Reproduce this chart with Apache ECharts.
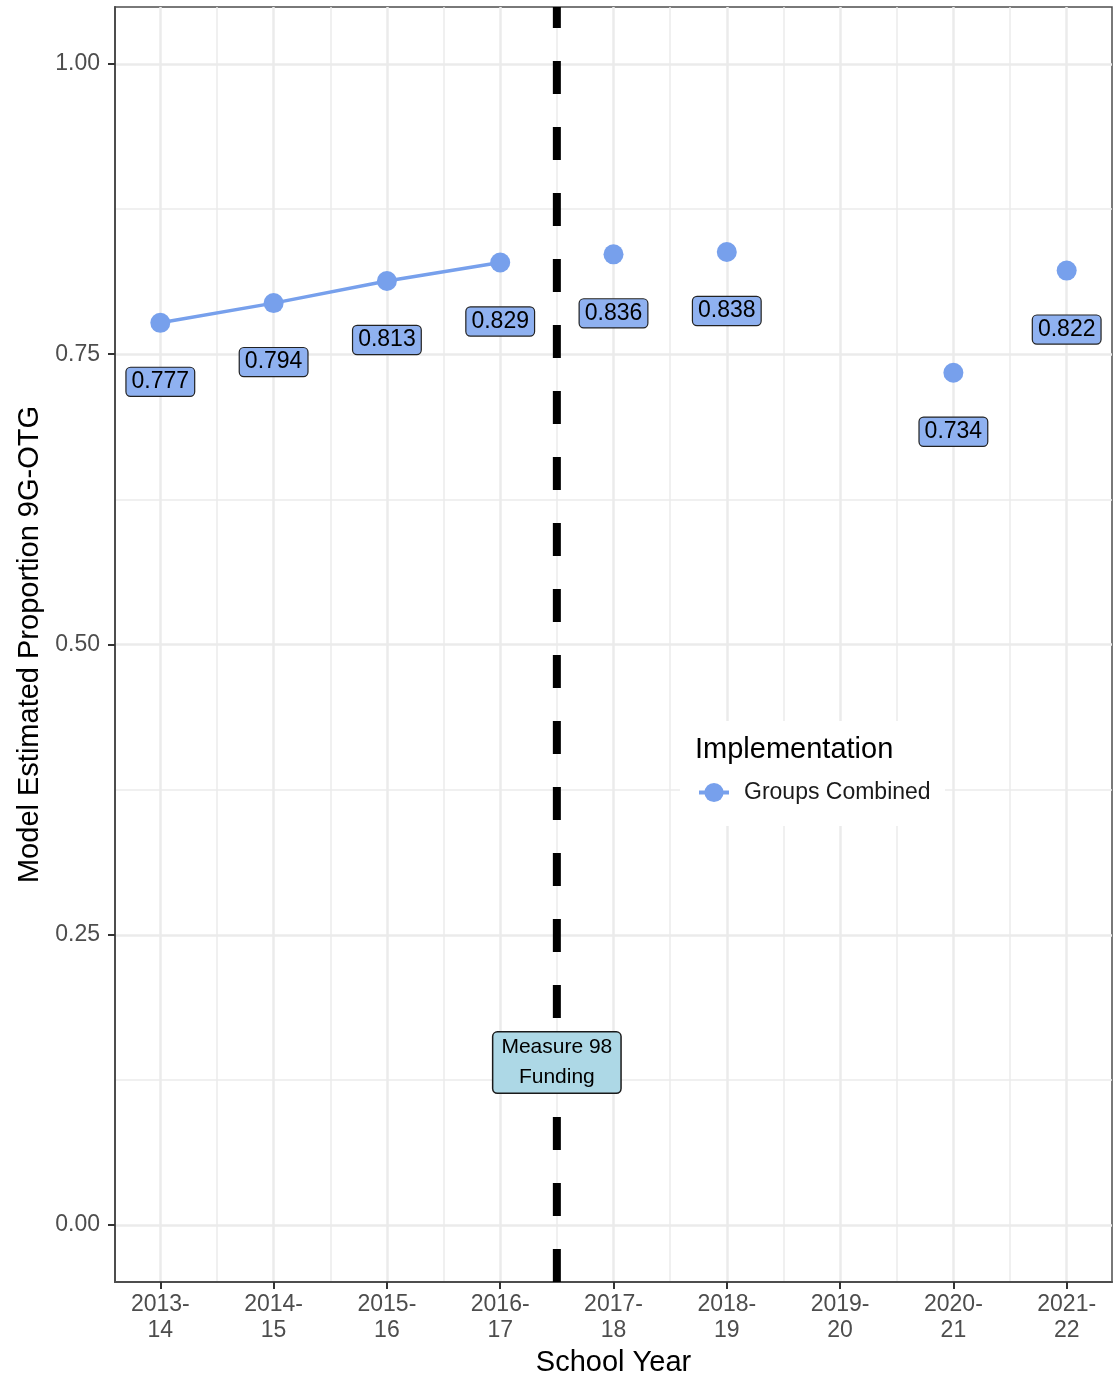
<!DOCTYPE html>
<html>
<head>
<meta charset="utf-8">
<script src="https://cdn.jsdelivr.net/npm/echarts@6/dist/echarts.min.js"></script>
<style>
html, body { margin: 0; padding: 0; background: #fff; }
#chart { width: 1119px; height: 1377px; }
</style>
</head>
<body>
<div id="chart"></div>
<script>
var schoolYears = ['2013-\n14', '2014-\n15', '2015-\n16', '2016-\n17', '2017-\n18', '2018-\n19', '2019-\n20', '2020-\n21', '2021-\n22'];
var estimates = [0.777, 0.794, 0.813, 0.829, 0.836, 0.838, null, 0.734, 0.822];
var preCount = 4; // years joined by the line, before funding
var yTicks = [0, 0.25, 0.5, 0.75, 1];
var yMinor = [0.125, 0.375, 0.625, 0.875];
var fundingAt = 3.5;
var fundingNote = 'Measure 98\nFunding';
var fundingNoteY = 0.14;

var yMin = -0.049, yMax = 1.049;
var xMin = -0.4, xMax = 8.4;
var font = "'Liberation Sans', Arial, sans-serif";
var pointColor = '#77A0EC';

var xIdx = schoolYears.map(function (d, i) { return i; });
var xMinor = schoolYears.slice(1).map(function (d, i) { return i + 0.5; });

var linePts = [];
var otherPts = [];
estimates.forEach(function (v, i) {
	if (v == null) return;
	if (i < preCount) linePts.push([i, v]);
	else otherPts.push([i, v]);
});

var valueLabel = {
	show: true,
	position: 'inside',
	offset: [0, 59],
	formatter: function (p) { return p.value[1].toFixed(3); },
	fontFamily: font,
	fontSize: 23,
	color: '#000',
	backgroundColor: '#8FB1F0',
	borderColor: '#222',
	borderWidth: 1.2,
	borderRadius: 4,
	padding: [3, 5, 2, 5]
};

var chart = echarts.init(document.getElementById('chart'));
chart.setOption({
	animation: false,
	textStyle: { fontFamily: font },
	grid: {
		left: 115,
		right: 7,
		top: 7,
		bottom: 95,
		outerBoundsMode: 'none',
		show: true,
		borderColor: '#4d4d4d',
		borderWidth: 1.5,
		backgroundColor: '#fff'
	},
	legend: {
		data: ['Groups Combined'],
		left: 697,
		top: 781,
		padding: 0,
		itemWidth: 30,
		itemHeight: 24,
		lineStyle: { width: 4 },
		textStyle: { fontFamily: font, fontSize: 23, color: '#1a1a1a', padding: [0, 0, 0, 10] }
	},
	graphic: [
		{
			type: 'rect',
			z: 1,
			shape: { x: 680, y: 721, width: 265, height: 105 },
			style: { fill: '#fff' }
		},
		{
			type: 'text',
			z: 5,
			left: 695,
			top: 735,
			style: { text: 'Implementation', fontFamily: font, fontSize: 29, fill: '#000' }
		}
	],
	xAxis: [
		{
			type: 'value',
			min: xMin,
			max: xMax,
			name: 'School Year',
			nameLocation: 'middle',
			nameGap: 64,
			nameTextStyle: { fontFamily: font, fontSize: 29, color: '#000' },
			axisLine: { show: true, onZero: false, lineStyle: { color: '#4d4d4d', width: 2 } },
			axisTick: { show: true, customValues: xIdx, length: 7, lineStyle: { color: '#333', width: 2 } },
			axisLabel: {
				customValues: xIdx,
				formatter: function (v) { return schoolYears[Math.round(v)]; },
				fontFamily: font,
				fontSize: 23,
				lineHeight: 26,
				color: '#4d4d4d',
				margin: 10
			},
			splitLine: { show: true, lineStyle: { color: '#ebebeb', width: 2.5 } }
		},
		{
			type: 'value',
			min: xMin,
			max: xMax,
			position: 'top',
			axisLine: { show: false },
			axisTick: { show: false, customValues: xMinor },
			axisLabel: { show: false, customValues: xMinor },
			splitLine: { show: true, lineStyle: { color: '#ebebeb', width: 1.5 } }
		}
	],
	yAxis: [
		{
			type: 'value',
			min: yMin,
			max: yMax,
			name: 'Model Estimated Proportion 9G-OTG',
			nameLocation: 'middle',
			nameGap: 64,
			nameTextStyle: { fontFamily: font, fontSize: 29, color: '#000' },
			axisLine: { show: true, onZero: false, lineStyle: { color: '#4d4d4d', width: 2 } },
			axisTick: { show: true, customValues: yTicks, length: 7, lineStyle: { color: '#333', width: 2 } },
			axisLabel: {
				customValues: yTicks,
				formatter: function (v) { return v.toFixed(2); },
				fontFamily: font,
				fontSize: 23,
				color: '#4d4d4d',
				margin: 15
			},
			splitLine: { show: true, lineStyle: { color: '#ebebeb', width: 2.5 } }
		},
		{
			type: 'value',
			min: yMin,
			max: yMax,
			position: 'right',
			axisLine: { show: false },
			axisTick: { show: false, customValues: yMinor },
			axisLabel: { show: false, customValues: yMinor },
			splitLine: { show: true, lineStyle: { color: '#ebebeb', width: 1.5 } }
		}
	],
	series: [
		{
			name: 'Funding',
			type: 'line',
			data: [[fundingAt, yMin], [fundingAt, yMax]],
			symbol: 'none',
			silent: true,
			z: 3,
			lineStyle: { color: '#000', width: 8, type: [33, 33] }
		},
		{
			name: 'Groups Combined',
			type: 'line',
			data: linePts,
			symbol: 'circle',
			symbolSize: 20,
			z: 4,
			itemStyle: { color: pointColor },
			lineStyle: { color: pointColor, width: 3.5 },
			label: valueLabel
		},
		{
			name: 'Groups Combined',
			type: 'scatter',
			data: otherPts,
			symbolSize: 20,
			z: 4,
			itemStyle: { color: pointColor, opacity: 1 },
			label: valueLabel
		},
		{
			name: 'Note',
			type: 'scatter',
			data: [[fundingAt, fundingNoteY]],
			symbolSize: 1,
			z: 10,
			silent: true,
			itemStyle: { color: 'rgba(0,0,0,0)', opacity: 1 },
			label: {
				show: true,
				position: 'inside',
				formatter: fundingNote,
				fontFamily: font,
				fontSize: 21,
				lineHeight: 30,
				color: '#000',
				backgroundColor: '#ADD8E6',
				borderColor: '#1a1a1a',
				borderWidth: 1.5,
				borderRadius: 4,
				padding: [0, 8, 0, 8]
			}
		}
	]
});
</script>
</body>
</html>
